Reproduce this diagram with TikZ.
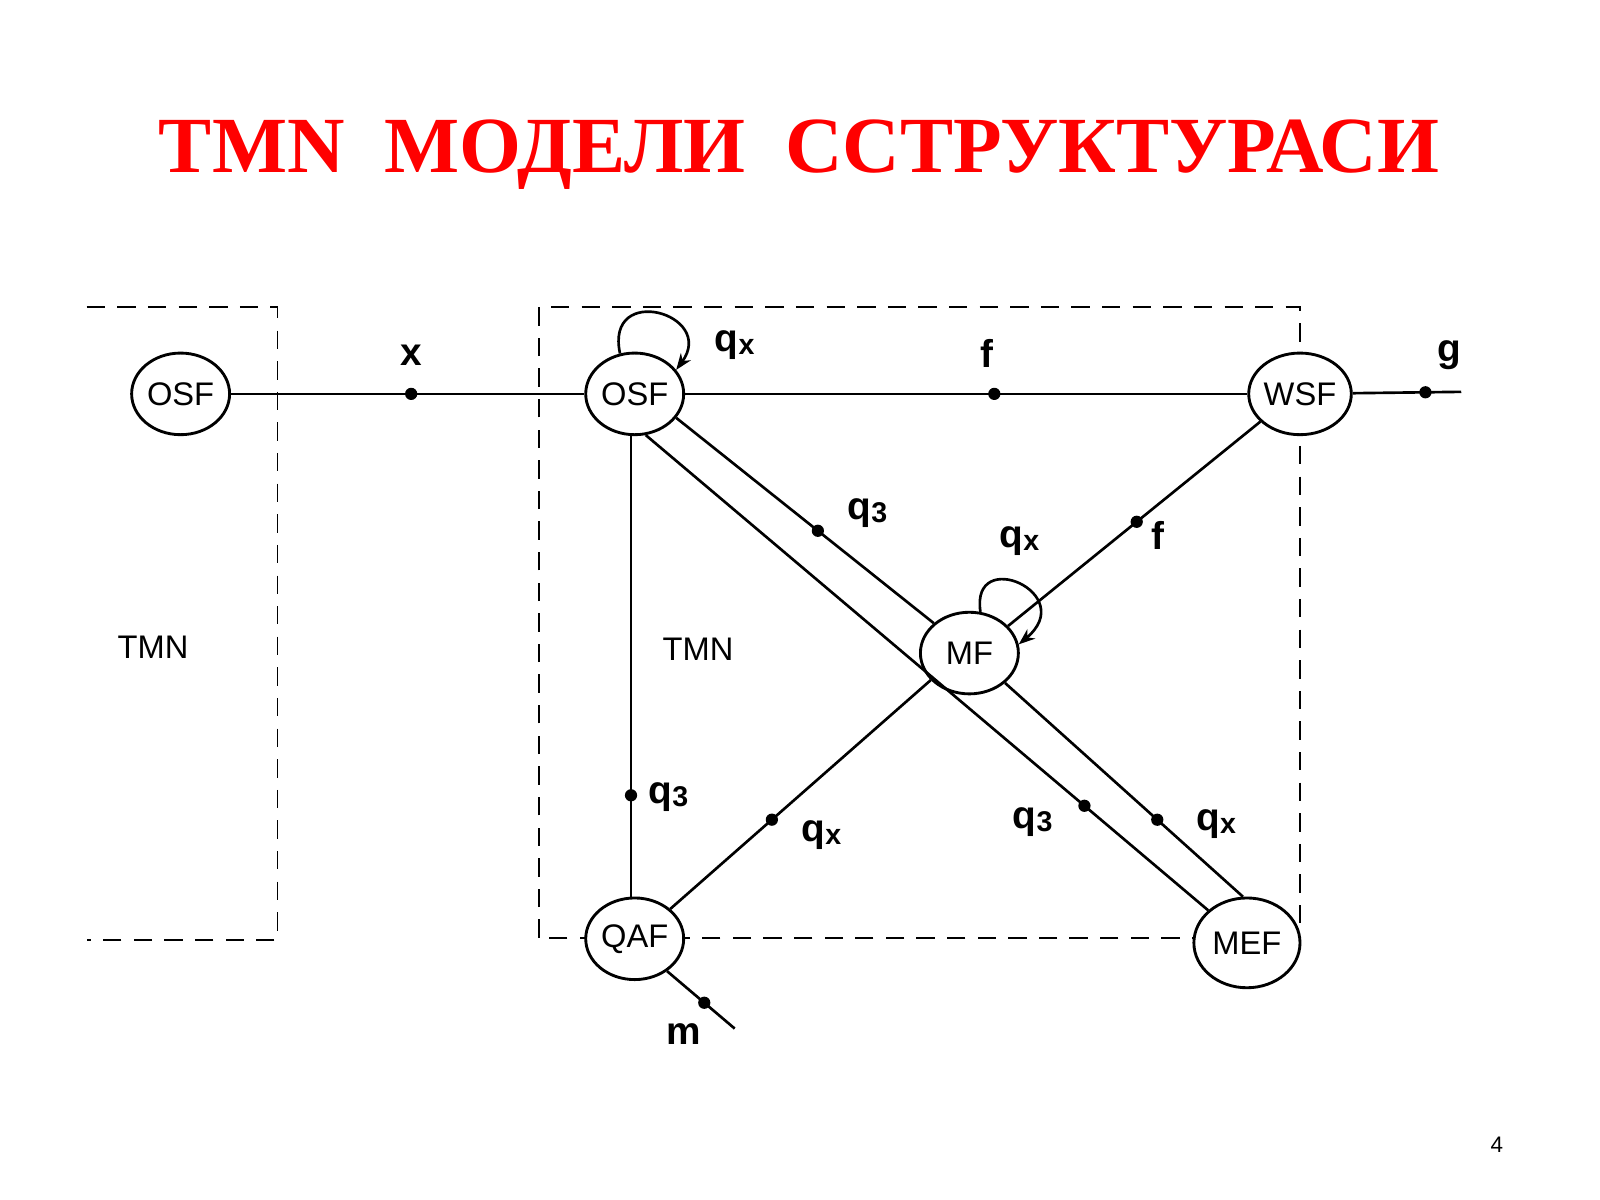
\documentclass[tikz,border=0pt]{standalone}
\usepackage{fontspec}
\setmainfont{Liberation Serif}
\setsansfont{Liberation Sans}
\usetikzlibrary{arrows.meta,shapes.geometric}
\begin{document}
\begin{tikzpicture}[x=0.5pt,y=-0.5pt,
  fn/.style={draw,line width=1.4pt,ellipse,fill=white,inner sep=0pt,minimum width=48pt,minimum height=40pt,font=\sffamily\fontsize{16}{16}\selectfont},
  ln/.style={line width=1.3pt},
  dsh/.style={line width=0.9pt,dash pattern=on 9pt off 6pt},
  dot/.style={circle,fill=black,inner sep=0pt,minimum size=6pt},
  lb/.style={font=\sffamily\bfseries\fontsize{19}{19}\selectfont},
  tx/.style={font=\sffamily\fontsize{16}{16}\selectfont}]
\newcommand{\qs}[1]{q\raisebox{-0.15ex}{\fontsize{14}{14}\selectfont #1}}
\useasboundingbox (0,0) rectangle (1568,1176);
\node[font=\bfseries\fontsize{39}{39}\selectfont,text=red] (title) at (783,152) {TMN\ \ МОДЕЛИ\ \ ССТРУКТУРАСИ};
% dashed boxes
\draw[dsh] (85,301) -- (272,301) -- (272,921) -- (85,921);
\draw[dsh] (528,919) -- (528,301) -- (1274,301) -- (1274,919) -- (528,919);
% nodes
\node[fn] (osf1) at (177,386) {OSF};
\node[fn] (osf2) at (622,386) {OSF};
\node[fn] (wsf) at (1274,386) {WSF};
\node[fn] (mf) at (950,640) {MF};
\node[fn] (qaf) at (622,920) {QAF};
\node[fn,minimum width=52pt,minimum height=44pt] (mef) at (1222,924) {MEF};
\coordinate (g) at (1432,384);
\coordinate (m) at (720,1008);
\node[tx] (t1) at (150,634) {TMN};
\node[tx] (t2) at (684,636) {TMN};
\node[font=\sffamily\fontsize{11}{11}\selectfont] (pg) at (1467,1122) {4};
% connectors
\draw[ln] (osf1) -- node[dot,pos=0.51](d1){} (osf2);
\draw[ln] (osf2) -- node[dot,pos=0.55](d2){} (wsf);
\draw[ln] (wsf) -- node[dot,pos=0.67](d3){} (g);
\draw[ln] (osf2.-95) -- node[dot,pos=0.78](d4){} (qaf.-265);
\draw[ln] (osf2.-30) -- node[dot,pos=0.55](d5){} (mf.140);
\draw[ln] (osf2.-75) -- node[dot,pos=0.78](d6){} (mef.140);
\draw[ln] (mf.-40) -- node[dot,pos=0.64](d7){} (mef.95);
\draw[ln] (wsf.215) -- node[dot,pos=0.49](d8){} (mf.35);
\draw[ln] (mf.215) -- node[dot,pos=0.61](d9){} (qaf.40);
\draw[ln] (qaf.-45) -- node[dot,pos=0.55](d10){} (m);
% loops
\draw[ln,-{Stealth[length=8pt]}] (osf2.110) .. controls +(-15,-70) and +(40,-55) .. (osf2.30);
\draw[ln,-{Stealth[length=8pt]}] (mf.75) .. controls +(-10,-65) and +(60,-50) .. (mf.10);
% labels
\node[lb] (lx) at (403,348) {x};
\node[lb] (lf1) at (967,346) {f};
\node[lb] (lg) at (1420,348) {g};
\node[lb] (lq1) at (720,338) {\qs{x}};
\node[lb] (lq2) at (850,503) {\qs{3}};
\node[lb] (lq3) at (999,530) {\qs{x}};
\node[lb] (lf2) at (1135,525) {f};
\node[lb] (lq4) at (655,781) {\qs{3}};
\node[lb] (lq5) at (805,818) {\qs{x}};
\node[lb] (lq6) at (1012,806) {\qs{3}};
\node[lb] (lq7) at (1192,808) {\qs{x}};
\node[lb] (lm) at (670,1013) {m};
\end{tikzpicture}
\end{document}
